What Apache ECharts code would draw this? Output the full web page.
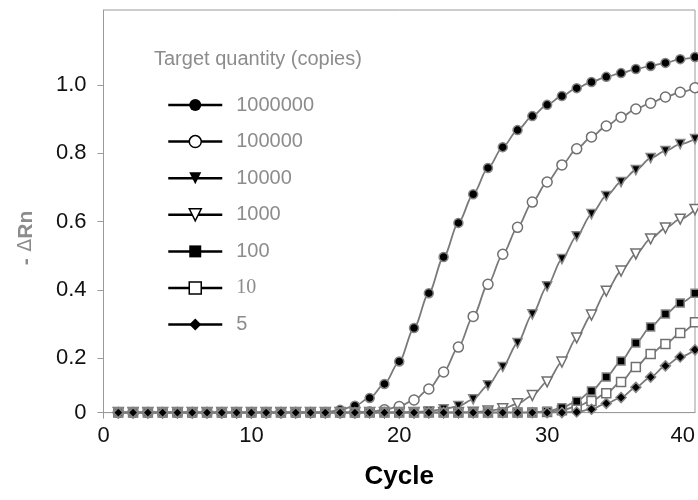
<!DOCTYPE html>
<html>
<head>
<meta charset="utf-8">
<script src="https://cdn.jsdelivr.net/npm/echarts@6/dist/echarts.min.js"></script>
<style>
  html, body { margin: 0; padding: 0; background: #fff; }
  #chart { width: 698px; height: 500px; }
</style>
</head>
<body>
<div id="chart"></div>
<script>
// Cycles 1..40
const cycles = [];
for (let c = 1; c <= 40; c++) cycles.push(c);

// Target quantities (legend order)
const quantities = ['1000000', '100000', '10000', '1000', '100', '10', '5'];

// -ΔRn values per cycle
const rn1000000 = [0.04, 0.04, 0.04, 0.04, 0.04, 0.04, 0.04, 0.04, 0.04, 0.04,
  0.04, 0.04, 0.04, 0.04, 0.04, 0.048, 0.06, 0.083, 0.124, 0.19,
  0.288, 0.39, 0.496, 0.596, 0.68, 0.757, 0.818, 0.868, 0.909, 0.942,
  0.968, 0.991, 1.009, 1.024, 1.035, 1.047, 1.056, 1.065, 1.076, 1.082];
const rn100000 = [0.04, 0.04, 0.04, 0.04, 0.04, 0.04, 0.04, 0.04, 0.04, 0.04,
  0.04, 0.04, 0.04, 0.04, 0.04, 0.04, 0.04, 0.042, 0.048, 0.058,
  0.077, 0.109, 0.159, 0.232, 0.322, 0.416, 0.504, 0.583, 0.657, 0.716,
  0.766, 0.813, 0.848, 0.88, 0.906, 0.93, 0.947, 0.965, 0.979, 0.992];
const rn10000 = [0.04, 0.04, 0.04, 0.04, 0.04, 0.04, 0.04, 0.04, 0.04, 0.04,
  0.04, 0.04, 0.04, 0.04, 0.04, 0.04, 0.04, 0.04, 0.04, 0.04,
  0.041, 0.044, 0.05, 0.059, 0.079, 0.12, 0.174, 0.244, 0.328, 0.41,
  0.49, 0.557, 0.622, 0.675, 0.716, 0.751, 0.786, 0.807, 0.827, 0.842];
const rn1000 = [0.04, 0.04, 0.04, 0.04, 0.04, 0.04, 0.04, 0.04, 0.04, 0.04,
  0.04, 0.04, 0.04, 0.04, 0.04, 0.04, 0.04, 0.04, 0.04, 0.04,
  0.04, 0.04, 0.04, 0.04, 0.041, 0.045, 0.051, 0.066, 0.09, 0.13,
  0.188, 0.259, 0.326, 0.396, 0.455, 0.505, 0.549, 0.581, 0.607, 0.635];
const rn100 = [0.04, 0.04, 0.04, 0.04, 0.04, 0.04, 0.04, 0.04, 0.04, 0.04,
  0.04, 0.04, 0.04, 0.04, 0.04, 0.04, 0.04, 0.04, 0.04, 0.04,
  0.04, 0.04, 0.04, 0.04, 0.04, 0.04, 0.04, 0.04, 0.04, 0.044,
  0.054, 0.073, 0.103, 0.144, 0.191, 0.244, 0.291, 0.329, 0.361, 0.39];
const rn10 = [0.04, 0.04, 0.04, 0.04, 0.04, 0.04, 0.04, 0.04, 0.04, 0.04,
  0.04, 0.04, 0.04, 0.04, 0.04, 0.04, 0.04, 0.04, 0.04, 0.04,
  0.04, 0.04, 0.04, 0.04, 0.04, 0.04, 0.04, 0.04, 0.04, 0.042,
  0.047, 0.058, 0.074, 0.097, 0.13, 0.174, 0.212, 0.241, 0.273, 0.305];
const rn5 = [0.04, 0.04, 0.04, 0.04, 0.04, 0.04, 0.04, 0.04, 0.04, 0.04,
  0.04, 0.04, 0.04, 0.04, 0.04, 0.04, 0.04, 0.04, 0.04, 0.04,
  0.04, 0.04, 0.04, 0.04, 0.04, 0.04, 0.04, 0.04, 0.04, 0.04,
  0.04, 0.042, 0.05, 0.067, 0.084, 0.114, 0.144, 0.177, 0.203, 0.224];

// Axis ticks
const xTicks = [0, 10, 20, 30, 40];
const yTicks = [0.04, 0.2, 0.4, 0.6, 0.8, 1.0];   // bottom of the axis is labelled "0"

const values = [rn1000000, rn100000, rn10000, rn1000, rn100, rn10, rn5];
const triDown = 'path://M0,0L20,0L10,17Z';
const symbols = ['circle', 'circle', triDown, triDown, 'rect', 'rect', 'diamond'];
const filled = [true, false, true, false, true, false, true];
const sizes = [9, 10, 9, 10, 8, 9, 10];

const lineGray = '#7a7a7a';

const series = quantities.map((q, i) => ({
  name: q,
  type: 'line',
  smooth: 0.3,
  smoothMonotone: 'x',
  symbol: symbols[i],
  symbolSize: sizes[i],
  z: 2 + (filled[i] ? 1 : 0),
  lineStyle: { color: lineGray, width: 1.8 },
  itemStyle: {
    color: filled[i] ? '#000' : '#fff',
    borderColor: filled[i] ? '#858585' : '#707070',
    borderWidth: 1.5
  },
  emphasis: { disabled: true },
  data: cycles.map((c, k) => [c, values[i][k]])
}));

const legendData = quantities.map((q, i) => ({
  name: q,
  lineStyle: { color: '#000', width: 2.5 },
  itemStyle: {
    color: filled[i] ? '#000' : '#fff',
    borderColor: '#000',
    borderWidth: filled[i] ? 0 : 1.5
  }
}));

const chart = echarts.init(document.getElementById('chart'), null, { renderer: 'canvas' });

chart.setOption({
  animation: false,
  backgroundColor: '#fff',
  textStyle: { fontFamily: 'Liberation Sans, Arial, sans-serif' },
  grid: {
    left: 103.5, top: 10, width: 596, bottom: 87.4,
    show: true, borderColor: '#9a9a9a', borderWidth: 1
  },
  title: {
    text: 'Target quantity (copies)',
    left: 154, top: 49, padding: 0,
    textStyle: { color: '#8c8c8c', fontSize: 20, fontWeight: 'normal' }
  },
  legend: {
    orient: 'vertical',
    left: 167, top: 94, padding: 0,
    itemWidth: 54, itemHeight: 15, itemGap: 14.6,
    data: legendData,
    selectedMode: false,
    formatter: name => name === '10' ? '{s|10}' : name,
    textStyle: {
      color: '#8c8c8c', fontSize: 20, lineHeight: 22, padding: [0, 0, 0, 9],
      rich: { s: { fontFamily: 'Liberation Serif, serif', fontSize: 20, color: '#8c8c8c', lineHeight: 22 } }
    }
  },
  xAxis: {
    type: 'value', min: 0, max: 40, interval: 10,
    name: 'Cycle', nameLocation: 'middle', nameGap: 51,
    nameTextStyle: { color: '#000', fontSize: 26, fontWeight: 'bold' },
    axisLine: { lineStyle: { color: '#9a9a9a', width: 1 } },
    axisTick: { show: true, customValues: [0], length: 6, lineStyle: { color: '#9a9a9a' } },
    axisLabel: {
      customValues: xTicks, margin: 12, color: '#111', fontSize: 22,
      alignMaxLabel: 'right'
    },
    splitLine: { show: false }
  },
  yAxis: {
    type: 'value', min: 0.04, max: 1.22,
    axisLine: { show: true, lineStyle: { color: '#9a9a9a', width: 1 } },
    axisTick: { show: true, customValues: yTicks, length: 6, lineStyle: { color: '#9a9a9a' } },
    axisLabel: {
      customValues: yTicks, margin: 17, color: '#111', fontSize: 22,
      formatter: v => v < 0.1 ? '0' : v.toFixed(1)
    },
    splitLine: { show: false }
  },
  graphic: [{
    type: 'text',
    x: 26, y: 238,
    rotation: Math.PI / 2,
    style: {
      text: '{a|-}  {d|\u0394}{a|Rn}',
      align: 'center', verticalAlign: 'middle',
      rich: {
        a: { fontFamily: 'Liberation Sans, Arial, sans-serif', fontSize: 21, fontWeight: 'bold', fill: '#8c8c8c' },
        d: { fontFamily: 'DejaVu Sans, sans-serif', fontSize: 19, fontWeight: 'normal', fill: '#8c8c8c' }
      }
    }
  }],
  series: series
});

window.addEventListener('resize', () => chart.resize());
</script>
</body>
</html>
